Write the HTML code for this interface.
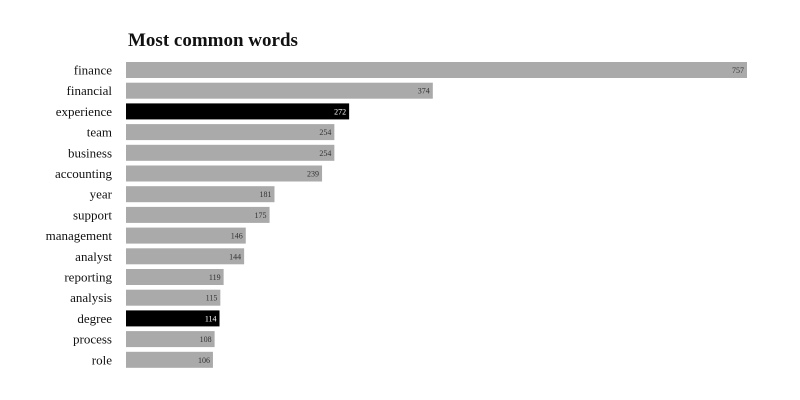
<!DOCTYPE html>
<html><head><meta charset="utf-8"><style>
body{margin:0;background:#fff;}
svg{display:block;font-family:"Liberation Serif","DejaVu Serif",serif;}
</style></head><body>
<svg id="chart" width="800" height="400">
<text x="128" y="46" font-size="19" font-weight="bold" fill="#111">Most common words</text>
<g id="bars"></g>
</svg>
<script>
const words=["finance","financial","experience","team","business","accounting","year","support","management","analyst","reporting","analysis","degree","process","role"];
const counts=[757,374,272,254,254,239,181,175,146,144,119,115,114,108,106];
const highlighted=["experience","degree"];
const x0=126, pxPer=621/757, y0=62, step=20.7, bh=16;
const xs=v=>x0+v*pxPer, ys=i=>y0+i*step;
const g=document.getElementById('bars'), NS="http://www.w3.org/2000/svg";
words.forEach((w,i)=>{
  const hi=highlighted.includes(w);
  const r=document.createElementNS(NS,'rect');
  r.setAttribute('x',x0);r.setAttribute('y',ys(i));
  r.setAttribute('width',xs(counts[i])-x0);r.setAttribute('height',bh);
  r.setAttribute('fill',hi?'#000':'#aaa');
  
  
  g.appendChild(r);
  const l=document.createElementNS(NS,'text');
  l.setAttribute('x',112);l.setAttribute('y',ys(i)+bh/2+4.5);
  l.setAttribute('text-anchor','end');l.setAttribute('font-size','13');l.setAttribute('fill','#111');
  l.setAttribute('textLength','');
  l.removeAttribute('textLength');
  l.textContent=w;
  
  
  g.appendChild(l);
  const v=document.createElementNS(NS,'text');
  v.setAttribute('x',xs(counts[i])-3);v.setAttribute('y',ys(i)+bh/2+3);
  v.setAttribute('text-anchor','end');v.setAttribute('font-size','8');v.setAttribute('fill',hi?'#fff':'#333');
  v.textContent=counts[i];
  
  
  g.appendChild(v);
});
</script>
</body></html>
